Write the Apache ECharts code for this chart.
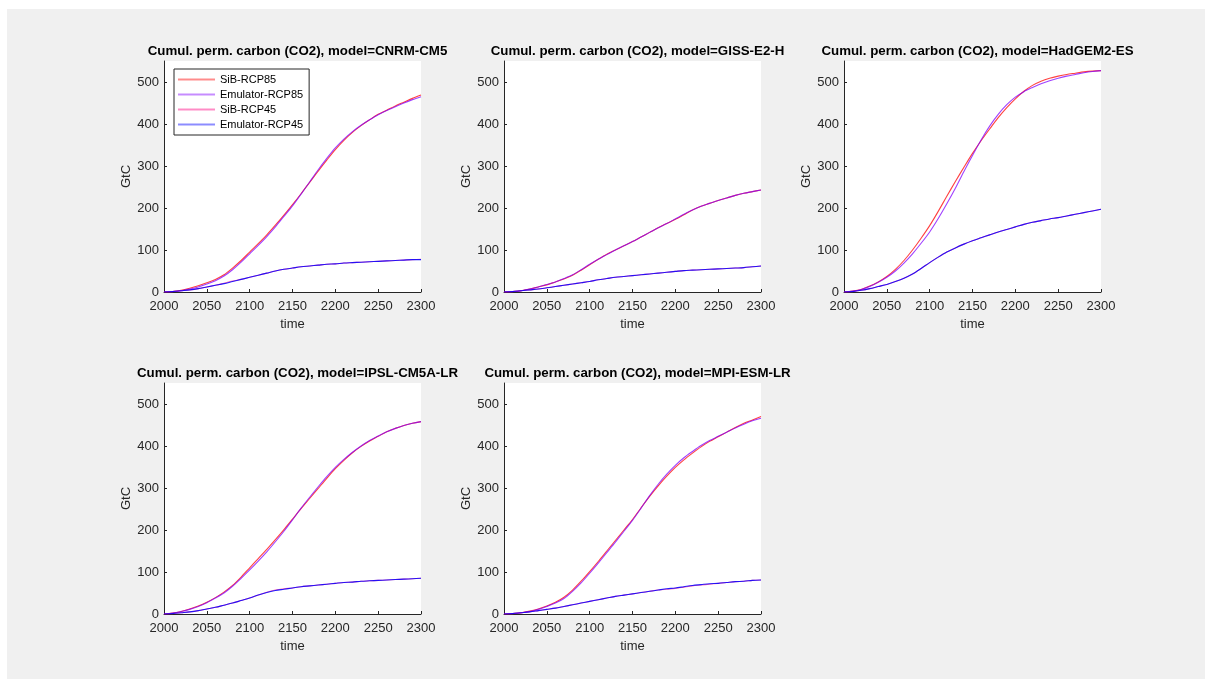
<!DOCTYPE html>
<html>
<head>
<meta charset="utf-8">
<title>Cumulative permafrost carbon (CO2)</title>
<script src="https://cdn.jsdelivr.net/npm/echarts@6/dist/echarts.min.js"></script>
<style>
  html, body { margin: 0; padding: 0; background: #ffffff; }
  #chart { width: 1205px; height: 679px; }
</style>
</head>
<body>
<div id="chart"></div>
<script>
// Time axis (every 10 years) and tick labels
const years = [2000, 2010, 2020, 2030, 2040, 2050, 2060, 2070, 2080, 2090, 2100,
               2110, 2120, 2130, 2140, 2150, 2160, 2170, 2180, 2190, 2200,
               2210, 2220, 2230, 2240, 2250, 2260, 2270, 2280, 2290, 2300];
const xTicks = [2000, 2050, 2100, 2150, 2200, 2250, 2300];
const yTicks = [0, 100, 200, 300, 400, 500];

const seriesNames = ['SiB-RCP85', 'Emulator-RCP85', 'SiB-RCP45', 'Emulator-RCP45'];
const seriesColors = ['#ff0000', '#8000ff', '#ff0080', '#0000ff'];
const seriesOpacity = [0.75, 0.75, 0.6, 0.85];

const models = ['CNRM-CM5', 'GISS-E2-H', 'HadGEM2-ES', 'IPSL-CM5A-LR', 'MPI-ESM-LR'];

// Cumulative permafrost carbon, GtC
const cnrmSib85 = [0, 1, 4, 9, 15, 22, 30, 41, 57, 75, 95, 115, 136, 159, 183, 208, 234, 261, 288, 314, 339, 361, 380, 396, 410, 423, 433, 443, 452, 461, 469];
const cnrmEmu85 = [0, 1, 3, 7, 12, 19, 27, 38, 53, 71, 91, 111, 132, 155, 180, 205, 233, 262, 291, 318, 343, 364, 382, 397, 410, 422, 432, 441, 450, 458, 465];
const cnrmSib45 = [0, 1, 3, 5, 8, 12, 16, 21, 26, 30, 35, 40, 45, 50, 54, 57, 60, 62, 64, 66, 67, 69, 70, 71, 72, 73, 74, 75, 76, 77, 78];
const cnrmEmu45 = [0, 1, 3, 5, 8, 12, 16, 20, 25, 30, 35, 40, 45, 50, 54, 57, 60, 62, 64, 66, 67, 69, 70, 71, 72, 73, 74, 75, 76, 77, 77];

const gissSib85 = [0, 1, 3, 7, 12, 17, 24, 31, 40, 52, 65, 78, 90, 100, 110, 120, 131, 142, 153, 163, 173, 184, 195, 204, 211, 218, 224, 230, 235, 239, 243];
const gissEmu85 = [0, 1, 3, 7, 12, 18, 24, 32, 41, 53, 66, 78, 89, 100, 110, 120, 131, 142, 153, 163, 174, 185, 195, 204, 211, 218, 224, 230, 235, 239, 243];
const gissSib45 = [0, 1, 3, 5, 7, 10, 13, 16, 19, 22, 25, 29, 32, 35, 37, 39, 41, 43, 45, 47, 49, 51, 52, 53, 54, 55, 56, 57, 58, 60, 62];
const gissEmu45 = [0, 1, 3, 5, 7, 10, 13, 16, 19, 22, 25, 29, 32, 35, 37, 39, 41, 43, 45, 47, 49, 51, 52, 53, 54, 55, 56, 57, 58, 60, 62];

const hadSib85 = [0, 2, 6, 14, 24, 37, 54, 75, 100, 128, 158, 192, 228, 263, 297, 330, 360, 388, 415, 439, 460, 478, 492, 502, 509, 514, 518, 521, 524, 526, 527];
const hadEmu85 = [0, 2, 6, 13, 23, 35, 50, 69, 91, 116, 143, 175, 210, 247, 287, 325, 362, 395, 423, 446, 464, 477, 487, 496, 503, 509, 514, 518, 522, 525, 527];
const hadSib45 = [0, 1, 4, 8, 13, 18, 25, 33, 43, 56, 70, 83, 95, 105, 114, 122, 129, 136, 143, 149, 155, 161, 166, 170, 174, 177, 181, 185, 189, 193, 197];
const hadEmu45 = [0, 1, 4, 8, 13, 18, 25, 33, 43, 56, 70, 83, 95, 105, 114, 122, 129, 136, 143, 149, 155, 161, 166, 170, 174, 177, 181, 185, 189, 193, 197];

const ipslSib85 = [0, 2, 6, 12, 19, 28, 39, 52, 68, 88, 110, 132, 154, 177, 201, 226, 251, 275, 299, 323, 346, 366, 384, 399, 412, 423, 434, 442, 449, 454, 458];
const ipslEmu85 = [0, 2, 6, 11, 18, 27, 38, 50, 66, 85, 105, 126, 148, 172, 197, 224, 252, 278, 303, 327, 349, 368, 385, 400, 413, 424, 434, 442, 449, 454, 458];
const ipslSib45 = [0, 1, 3, 5, 8, 12, 16, 21, 26, 32, 38, 45, 52, 57, 60, 62, 65, 67, 69, 71, 73, 75, 76, 78, 79, 80, 81, 82, 83, 84, 85];
const ipslEmu45 = [0, 1, 3, 5, 8, 12, 16, 21, 26, 32, 38, 45, 51, 56, 59, 62, 65, 67, 69, 71, 73, 75, 76, 78, 79, 80, 81, 82, 83, 84, 85];

const mpiSib85 = [0, 1, 3, 7, 12, 19, 28, 40, 57, 78, 101, 125, 150, 175, 200, 225, 253, 280, 305, 328, 349, 367, 383, 398, 411, 422, 433, 444, 454, 462, 470];
const mpiEmu85 = [0, 1, 3, 6, 11, 18, 26, 37, 54, 74, 97, 121, 146, 171, 197, 223, 252, 282, 309, 333, 354, 372, 387, 401, 413, 423, 433, 443, 452, 460, 466];
const mpiSib45 = [0, 1, 3, 5, 8, 11, 14, 18, 22, 26, 30, 34, 38, 42, 45, 48, 51, 54, 57, 59, 61, 64, 67, 69, 71, 73, 75, 77, 78, 80, 81];
const mpiEmu45 = [0, 1, 3, 5, 8, 11, 14, 18, 22, 26, 30, 34, 38, 42, 45, 48, 51, 54, 57, 60, 62, 65, 68, 70, 72, 73, 75, 77, 78, 80, 81];

const panelValues = [
  [cnrmSib85, cnrmEmu85, cnrmSib45, cnrmEmu45],
  [gissSib85, gissEmu85, gissSib45, gissEmu45],
  [hadSib85, hadEmu85, hadSib45, hadEmu45],
  [ipslSib85, ipslEmu85, ipslSib45, ipslEmu45],
  [mpiSib85, mpiEmu85, mpiSib45, mpiEmu45]
];

// Subplot boxes (left, top) in a 2x3 layout; the sixth cell is empty
const boxes = [
  [164, 61], [504, 61], [844, 61],
  [164, 383], [504, 383]
];
const boxW = 257, boxH = 231;

const FONT = '"Liberation Sans", Arial, Helvetica, sans-serif';
const AXIS_COLOR = '#262626';

const grids = [], xAxes = [], yAxes = [], titles = [], series = [];

boxes.forEach(function (b, i) {
  grids.push({
    left: b[0], top: b[1], width: boxW, height: boxH,
    show: true, backgroundColor: '#ffffff', borderWidth: 0
  });
  titles.push({
    text: 'Cumul. perm. carbon (CO2), model=' + models[i],
    left: b[0] + boxW / 2,
    top: b[1] - 21,
    textAlign: 'center',
    textStyle: { fontFamily: FONT, fontSize: 13.3, fontWeight: 'bold', color: '#000000' }
  });
  xAxes.push({
    gridIndex: i, type: 'value', min: 2000, max: 2300, interval: 50,
    name: 'time', nameLocation: 'middle', nameGap: 26,
    nameTextStyle: { fontFamily: FONT, fontSize: 13, color: AXIS_COLOR },
    axisLine: { show: true, onZero: false, lineStyle: { color: AXIS_COLOR, width: 1 } },
    axisTick: { show: true, inside: true, length: 3, lineStyle: { color: AXIS_COLOR }, customValues: xTicks },
    axisLabel: {
      fontFamily: FONT, fontSize: 13, color: AXIS_COLOR, margin: 8, customValues: xTicks,
      formatter: function (v) { return String(v); }
    },
    splitLine: { show: false }
  });
  yAxes.push({
    gridIndex: i, type: 'value', min: 0, max: 550,
    name: 'GtC', nameLocation: 'middle', nameGap: 30, nameRotate: 90,
    nameTextStyle: { fontFamily: FONT, fontSize: 13, color: AXIS_COLOR },
    axisLine: { show: true, onZero: false, lineStyle: { color: AXIS_COLOR, width: 1 } },
    axisTick: { show: true, inside: true, length: 3, lineStyle: { color: AXIS_COLOR }, customValues: yTicks },
    axisLabel: {
      fontFamily: FONT, fontSize: 13, color: AXIS_COLOR, margin: 5, customValues: yTicks,
      formatter: function (v) { return String(v); }
    },
    splitLine: { show: false }
  });
  panelValues[i].forEach(function (vals, k) {
    series.push({
      type: 'line',
      name: seriesNames[k],
      xAxisIndex: i, yAxisIndex: i,
      data: years.map(function (y, j) { return [y, vals[j]]; }),
      symbol: 'none',
      smooth: 0.3,
      color: seriesColors[k],
      lineStyle: { color: seriesColors[k], width: 1.1, opacity: seriesOpacity[k] },
      emphasis: { disabled: true },
      silent: true,
      z: 2 + k
    });
  });
});

const chart = echarts.init(document.getElementById('chart'), null, { renderer: 'canvas' });
chart.setOption({
  animation: false,
  backgroundColor: '#ffffff',
  graphic: [{
    type: 'rect', z: -10, silent: true,
    shape: { x: 7, y: 9, width: 1198, height: 670 },
    style: { fill: '#f0f0f0' }
  }],
  title: titles,
  grid: grids,
  xAxis: xAxes,
  yAxis: yAxes,
  legend: {
    data: seriesNames.map(function (n, k) {
      return { name: n, itemStyle: { color: seriesColors[k], opacity: 0.45 } };
    }),
    icon: 'rect',
    orient: 'vertical',
    left: 174, top: 69,
    padding: [5, 6, 5, 4],
    itemGap: 4,
    itemWidth: 37, itemHeight: 2,
    backgroundColor: '#ffffff',
    borderColor: AXIS_COLOR, borderWidth: 1, borderRadius: 0,
    selectedMode: false,
    textStyle: { fontFamily: FONT, fontSize: 11, lineHeight: 11, color: '#000000' }
  },
  series: series
});
</script>
</body>
</html>
